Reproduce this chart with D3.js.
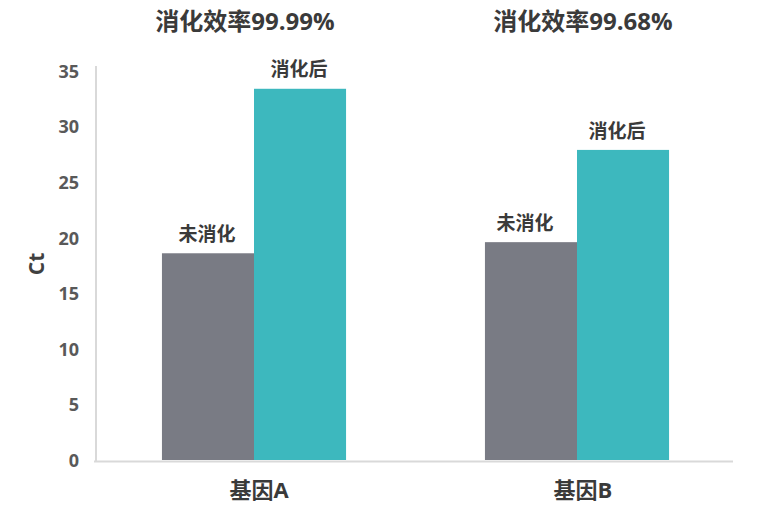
<!DOCTYPE html>
<html>
<head>
<meta charset="utf-8">
<script src="https://cdn.jsdelivr.net/npm/d3@7"></script>
<style>
  html, body { margin: 0; padding: 0; background: #fff; }
  svg { display: block; }
  text { font-family: "Open Sans", "Noto Sans CJK SC", sans-serif; font-weight: 700; }
</style>
</head>
<body>
<svg id="chart" width="760" height="513"></svg>
<script>
const categories = ["基因A", "基因B"];
const seriesNames = ["未消化", "消化后"];
const undigested = [18.6, 19.6];
const digested = [33.4, 27.9];
const efficiencies = ["消化效率99.99%", "消化效率99.68%"];
const yTicks = [0, 5, 10, 15, 20, 25, 30, 35];
const colors = ["#797b84", "#3db8be"];

const svg = d3.select("#chart");
const x0 = d3.scaleBand().domain(categories).range([92.5, 738.5]).paddingInner(0.43).paddingOuter(0.215);
const x1 = d3.scaleBand().domain(seriesNames).range([0, x0.bandwidth()]).padding(0);
const y = d3.scaleLinear().domain([0, 35]).range([460, 71]);

const data = categories.map((c, i) => ({cat: c, vals: [undigested[i], digested[i]]}));

// axes lines
svg.append("line").attr("x1", 96).attr("x2", 96).attr("y1", 66).attr("y2", 462)
  .attr("stroke", "#d9d9d9").attr("stroke-width", 2);

// y tick labels
const yAxis = d3.axisLeft(y).tickValues(yTicks).tickSize(0).tickPadding(0);
const gy = svg.append("g").attr("transform", "translate(79,0)").call(yAxis);
gy.select(".domain").remove();
gy.selectAll("text").attr("fill", "#595959").style("font-size", "18px")
  .attr("font-family", "'Open Sans', sans-serif").attr("font-weight", 700).attr("dy", "0.35em");

// bars
const groups = svg.append("g").selectAll("g").data(data).join("g")
  .attr("transform", d => `translate(${x0(d.cat)},0)`);
groups.selectAll("rect").data(d => d.vals.map((v, j) => ({name: seriesNames[j], v, j})))
  .join("rect")
  .attr("x", d => x1(d.name))
  .attr("width", x1.bandwidth())
  .attr("y", d => y(d.v))
  .attr("height", d => y(0) - y(d.v))
  .attr("fill", d => colors[d.j]);

// bar labels
groups.selectAll("text.lbl").data(d => d.vals.map((v, j) => ({name: seriesNames[j], v, j, cat: d.cat})))
  .join("text").attr("class", "lbl")
  .attr("x", d => x1(d.name) + x1.bandwidth() / 2 + (d.cat === categories[1] ? -6 : -1))
  .attr("y", d => y(d.v) - 19)
  .attr("text-anchor", "middle")
  .attr("dy", "0.35em")
  .attr("fill", "#3a3a3a")
  .style("font-size", "19px")
  .text(d => d.name);

// x axis line
svg.append("line").attr("x1", 94).attr("x2", 733).attr("y1", 461.5).attr("y2", 461.5)
  .attr("stroke", "#d9d9d9").attr("stroke-width", 2);

// category labels
svg.append("g").selectAll("text").data(categories).join("text")
  .attr("x", (d, i) => x0(d) + x0.bandwidth() / 2 + (i === 0 ? 5 : 6))
  .attr("y", 490)
  .attr("dy", "0.35em")
  .attr("text-anchor", "middle")
  .attr("fill", "#3a3a3a")
  .style("font-size", "22px")
  .text(d => d);

// efficiency titles
svg.append("g").selectAll("text").data(efficiencies).join("text")
  .attr("x", (d, i) => x0(categories[i]) + x0.bandwidth() / 2 + (i === 0 ? -9 : 6))
  .attr("y", 22)
  .attr("dy", "0.35em")
  .attr("text-anchor", "middle")
  .attr("fill", "#3a3a3a")
  .style("font-size", "24px")
  .text(d => d);

// y axis title
svg.append("text")
  .attr("transform", "translate(37,264) rotate(-90)")
  .attr("text-anchor", "middle")
  .attr("dy", "0.35em")
  .attr("fill", "#404040")
  .style("font-size", "21px")
  .text("Ct");
</script>
</body>
</html>
